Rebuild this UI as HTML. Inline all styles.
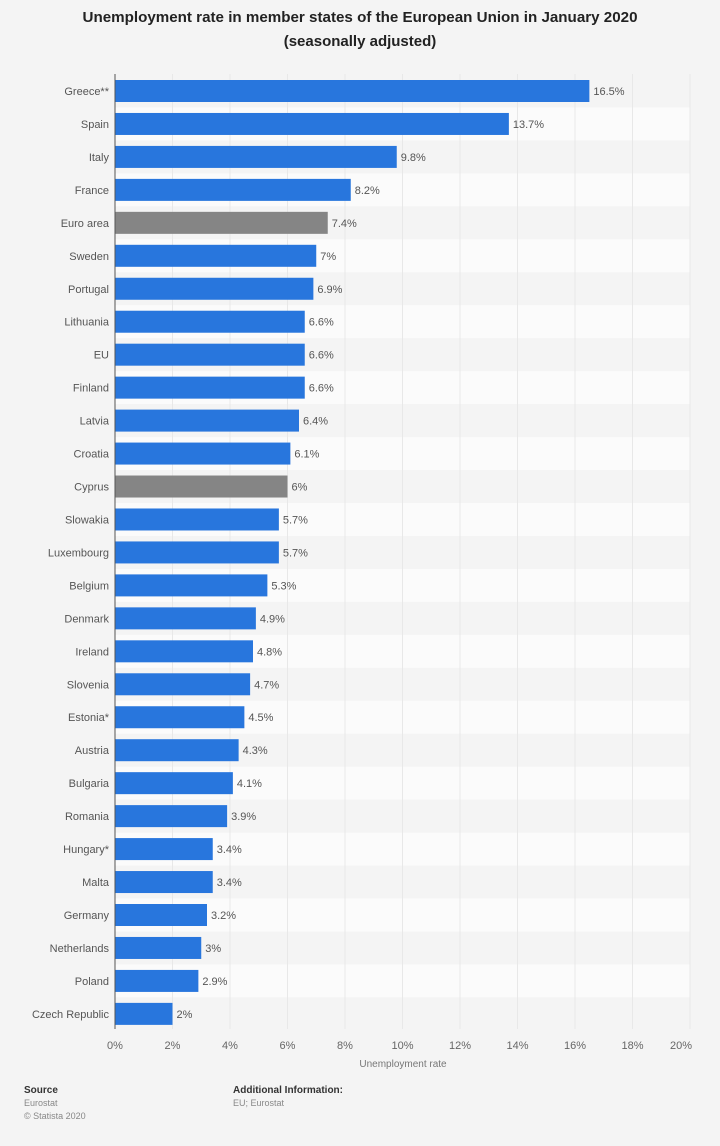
<!DOCTYPE html>
<html><head><meta charset="utf-8"><style>
html,body{margin:0;padding:0;background:#f4f4f4;}
svg{display:block;font-family:"Liberation Sans",Arial,sans-serif;}
</style></head><body>
<svg width="720" height="1146" viewBox="0 0 720 1146" xmlns="http://www.w3.org/2000/svg">
<rect width="720" height="1146" fill="#f4f4f4"/>
<text x="360" y="22" text-anchor="middle" font-size="15" font-weight="bold" fill="#222" textLength="555" lengthAdjust="spacingAndGlyphs">Unemployment rate in member states of the European Union in January 2020</text>
<text x="360" y="46" text-anchor="middle" font-size="15" font-weight="bold" fill="#222">(seasonally adjusted)</text>
<g id="stripes"></g>
<g id="grid"></g>
<g id="bars"></g>
<line x1="115" y1="74" x2="115" y2="1029" stroke="#555" stroke-width="1"/>
<g id="ticks" font-size="11" fill="#666" text-anchor="middle"></g>
<text x="403" y="1067" text-anchor="middle" font-size="10" fill="#777">Unemployment rate</text>
<text x="24" y="1093" font-size="10" font-weight="bold" fill="#333">Source</text>
<text x="24" y="1106" font-size="9" fill="#888">Eurostat</text>
<text x="24" y="1119" font-size="9" fill="#888">© Statista 2020</text>
<text x="233" y="1093" font-size="10" font-weight="bold" fill="#333">Additional Information:</text>
<text x="233" y="1106" font-size="9" fill="#888">EU; Eurostat</text>
<script>
var d=[["Greece**",16.5,"16.5%"],["Spain",13.7,"13.7%"],["Italy",9.8,"9.8%"],["France",8.2,"8.2%"],["Euro area",7.4,"7.4%",1],["Sweden",7,"7%"],["Portugal",6.9,"6.9%"],["Lithuania",6.6,"6.6%"],["EU",6.6,"6.6%"],["Finland",6.6,"6.6%"],["Latvia",6.4,"6.4%"],["Croatia",6.1,"6.1%"],["Cyprus",6,"6%",1],["Slowakia",5.7,"5.7%"],["Luxembourg",5.7,"5.7%"],["Belgium",5.3,"5.3%"],["Denmark",4.9,"4.9%"],["Ireland",4.8,"4.8%"],["Slovenia",4.7,"4.7%"],["Estonia*",4.5,"4.5%"],["Austria",4.3,"4.3%"],["Bulgaria",4.1,"4.1%"],["Romania",3.9,"3.9%"],["Hungary*",3.4,"3.4%"],["Malta",3.4,"3.4%"],["Germany",3.2,"3.2%"],["Netherlands",3,"3%"],["Poland",2.9,"2.9%"],["Czech Republic",2,"2%"]];
var NS="http://www.w3.org/2000/svg",x0=115,s=28.75,y0=91,dy=32.96;
function el(p,t,a,txt){var e=document.createElementNS(NS,t);for(var k in a)e.setAttribute(k,a[k]);if(txt!==undefined)e.textContent=txt;document.getElementById(p).appendChild(e);}
d.forEach(function(r,i){var c=y0+i*dy;
 if(i%2==1)el("stripes","rect",{x:115,y:c-dy/2,width:575,height:dy,fill:"#fbfbfb"});
});
for(var g=0;g<=20;g+=2){var x=x0+g*s;
 if(g>0)el("grid","line",{x1:x,y1:74,x2:x,y2:1029,stroke:"#e8e8e8","stroke-width":1});
 if(g==20)el("ticks","text",{x:692,y:1049,"text-anchor":"end"},g+"%");
 else el("ticks","text",{x:x,y:1049},g+"%");}
d.forEach(function(r,i){var c=y0+i*dy,w=r[1]*s;
 el("bars","rect",{x:115,y:c-11,width:w,height:22,fill:r[3]?"#858585":"#2876dd"});
 el("bars","text",{x:109,y:c+4,"text-anchor":"end","font-size":"11",fill:"#555"},r[0]);
 el("bars","text",{x:115+w+4,y:c+4,"font-size":"11",fill:"#555"},r[2]);
});
</script>
</svg>
</body></html>
